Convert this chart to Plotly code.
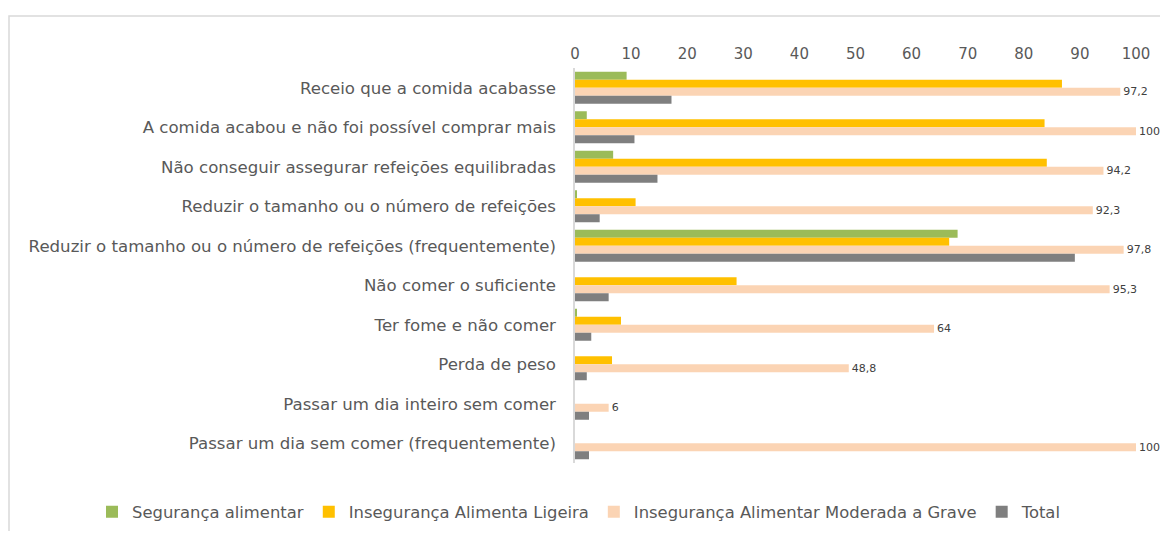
import plotly.graph_objects as go

categories = [
    "Receio que a comida acabasse",
    "A comida acabou e não foi possível comprar mais",
    "Não conseguir assegurar refeições equilibradas",
    "Reduzir o tamanho ou o número de refeições",
    "Reduzir o tamanho ou o número de refeições (frequentemente)",
    "Não comer o suficiente",
    "Ter fome e não comer",
    "Perda de peso",
    "Passar um dia inteiro sem comer",
    "Passar um dia sem comer (frequentemente)",
]

seguranca = [9.2, 2.1, 6.8, 0.3, 68.2, 0.0, 0.2, 0.0, 0.0, 0.0]
ligeira = [86.8, 83.7, 84.1, 10.8, 66.7, 28.8, 8.2, 6.6, 0.0, 0.0]
moderada = [97.2, 100, 94.2, 92.3, 97.8, 95.3, 64, 48.8, 6, 100]
total = [17.2, 10.6, 14.7, 4.4, 89.1, 6.0, 2.9, 2.1, 2.5, 2.5]

series_names = [
    "Segurança alimentar",
    "Insegurança Alimenta Ligeira",
    "Insegurança Alimentar Moderada a Grave",
    "Total",
]
colors = ["#9BBB59", "#FFC000", "#FBD4B4", "#7F7F7F"]

x_ticks = list(range(0, 101, 10))

def fmt(v):
    return f"{v:g}".replace(".", ",")

fig = go.Figure()
for name, vals, col in zip(series_names, [seguranca, ligeira, moderada, total], colors):
    kw = {}
    if name == series_names[2]:
        kw = dict(
            text=[fmt(v) for v in vals],
            textposition="outside",
            textfont=dict(size=11, color="#404040", family="DejaVu Sans"),
            constraintext="none",
            cliponaxis=False,
        )
    fig.add_trace(go.Bar(
        y=categories, x=vals, name=name, orientation="h",
        marker=dict(color=col, line=dict(width=0)),
        **kw,
    ))

OFF = 8  # page offset of the figure inside the window
W, H = 1168 - 2 * OFF, 539 - 2 * OFF
# plot area in window pixels
X0, X1, Y0, Y1 = 575, 1136, 68, 463
L, R = X0 - OFF, W - (X1 - OFF)
T, B = Y0 - OFF, H - (Y1 - OFF)
pw = X1 - X0
ph = Y1 - Y0

def px_x(px):
    return (px - X0) / pw

def px_y(py):
    return (Y1 - py) / ph

fig.update_layout(
    width=W, height=H,
    barmode="group",
    bargap=0.19,
    bargroupgap=0,
    plot_bgcolor="white",
    paper_bgcolor="white",
    margin=dict(l=L, r=R, t=T, b=B, autoexpand=False),
    font=dict(family="DejaVu Sans", size=15, color="#595959"),
    xaxis=dict(
        side="top", range=[0, 100], tickvals=x_ticks,
        showgrid=False, zeroline=False, showline=False,
        ticks="", ticklabelstandoff=5,
        tickfont=dict(size=15, color="#595959"),
    ),
    yaxis=dict(
        autorange="reversed", showgrid=False, zeroline=False,
        showline=True, linecolor="#D9D9D9", linewidth=1.5,
        ticks="", ticklabelstandoff=14,
        tickfont=dict(size=16.6, color="#595959"),
    ),
    legend=dict(
        orientation="h", x=px_x(92), xanchor="left",
        y=px_y(512), yanchor="middle",
        font=dict(size=16.4, color="#595959"),
        traceorder="normal",
    ),
    showlegend=True,
    shapes=[dict(
        type="rect", xref="paper", yref="paper",
        x0=px_x(9), x1=px_x(1200), y0=px_y(600), y1=px_y(16),
        line=dict(color="#D9D9D9", width=1.5), fillcolor="rgba(0,0,0,0)",
        layer="below",
    )],
)

fig.write_html("out.html")
